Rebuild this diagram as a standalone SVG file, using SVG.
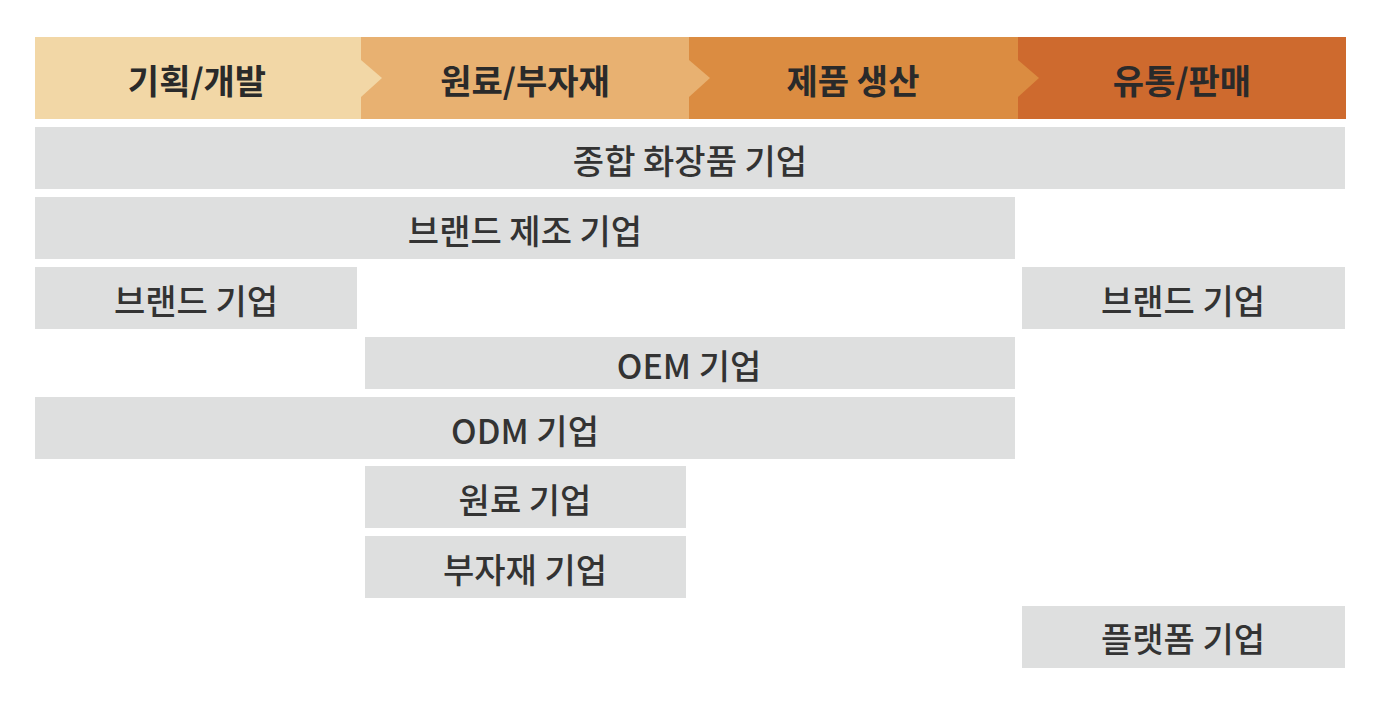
<svg xmlns="http://www.w3.org/2000/svg" width="1383" height="702" viewBox="0 0 1383 702">
<style>
.hd{font-family:"Noto Sans CJK KR","Noto Sans",sans-serif;font-weight:700;font-size:34px;fill:#2a2a2a;text-anchor:middle;dominant-baseline:central}
.bx{fill:#dedfdf}
.lb{font-family:"Noto Sans CJK KR","Noto Sans",sans-serif;font-weight:500;font-size:34px;fill:#333;text-anchor:middle;dominant-baseline:central}
</style>
<rect width="1383" height="702" fill="#ffffff"/>
<g id="header">
<g id="h1"><rect x="35" y="37" width="326" height="82" fill="#f2d7a6"/><text class="hd" x="197" y="79">기획/개발</text></g>
<g id="h2"><rect x="361" y="37" width="328" height="82" fill="#e8b171"/><polygon points="361,60 382,78 361,97" fill="#f2d7a6"/><text class="hd" x="525" y="79">원료/부자재</text></g>
<g id="h3"><rect x="689" y="37" width="329" height="82" fill="#db8c41"/><polygon points="689,60 710,78 689,97" fill="#e8b171"/><text class="hd" x="853" y="79">제품 생산</text></g>
<g id="h4"><rect x="1018" y="37" width="328" height="82" fill="#ce6a2e"/><polygon points="1018,60 1039,78 1018,97" fill="#db8c41"/><text class="hd" x="1182" y="79">유통/판매</text></g>
</g>
<g id="n1"><rect class="bx" x="35" y="127" width="1310" height="62"/><text class="lb" x="690" y="159">종합 화장품 기업</text></g>
<g id="n2"><rect class="bx" x="35" y="197" width="980" height="62"/><text class="lb" x="525" y="229">브랜드 제조 기업</text></g>
<g id="n3"><rect class="bx" x="35" y="267" width="322" height="62"/><text class="lb" x="196" y="299">브랜드 기업</text></g>
<g id="n4"><rect class="bx" x="1022" y="267" width="323" height="62"/><text class="lb" x="1183" y="299">브랜드 기업</text></g>
<g id="n5"><rect class="bx" x="365" y="337" width="650" height="52"/><text class="lb" x="689" y="364">OEM 기업</text></g>
<g id="n6"><rect class="bx" x="35" y="397" width="980" height="62"/><text class="lb" x="525" y="429">ODM 기업</text></g>
<g id="n7"><rect class="bx" x="365" y="466" width="321" height="62"/><text class="lb" x="525" y="498">원료 기업</text></g>
<g id="n8"><rect class="bx" x="365" y="536" width="321" height="62"/><text class="lb" x="525" y="568">부자재 기업</text></g>
<g id="n9"><rect class="bx" x="1022" y="606" width="323" height="62"/><text class="lb" x="1183" y="637">플랫폼 기업</text></g>
<g id="connectors"></g>
</svg>
